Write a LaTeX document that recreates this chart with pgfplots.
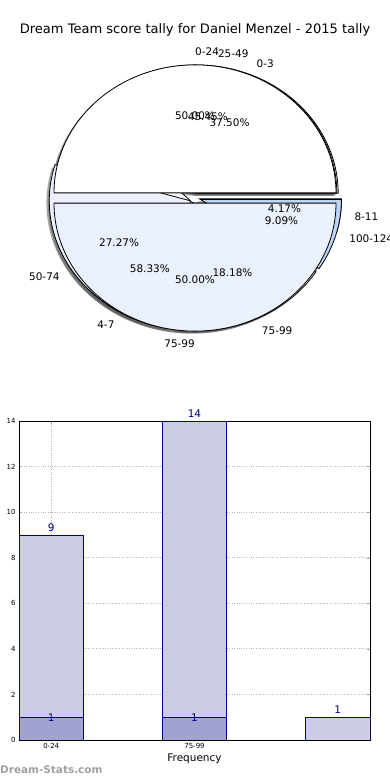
\documentclass[border=0pt]{standalone}
\usepackage{pgfplots}
\pgfplotsset{compat=1.18}
\usepackage{fontspec}
\setmainfont{DejaVu Sans}
\definecolor{pieW}{HTML}{FFFFFF}
\definecolor{pieL}{HTML}{EAF0FC}
\definecolor{pieM}{HTML}{DCE7FA}
\definecolor{pieB}{HTML}{BCD4F5}
\definecolor{barL}{HTML}{CCCCE5}
\definecolor{barD}{HTML}{A2A2D0}
\definecolor{navyc}{HTML}{000080}
\definecolor{wm}{HTML}{A0A0A0}

% pie geometry (canvas bp): centre (195,582), radii 141 x 128, explode 0.04, shadow (-0.02,-0.02)
\newcommand\piecalc[3]{%
 \pgfmathsetmacro\sA{360*#1/#3}%
 \pgfmathsetmacro\sB{360*(#1+#2)/#3}%
 \pgfmathsetmacro\sM{(\sA+\sB)/2}%
 \pgfmathsetmacro\cx{195+5.64*cos(\sM)}%
 \pgfmathsetmacro\cy{582+5.12*sin(\sM)}%
}
\newcommand\pieshadow[3]{\piecalc{#1}{#2}{#3}%
 \pgfmathsetmacro\shx{\cx-2.82}\pgfmathsetmacro\shy{\cy-2.56}%
 \fill[black!70,opacity=0.5] (axis cs:\shx,\shy) -- ++(\sA:141bp and 128bp)
   arc[start angle=\sA,end angle=\sB,x radius=141bp,y radius=128bp] -- cycle;}
\newcommand\piewedge[4]{\piecalc{#1}{#2}{#3}%
 \filldraw[fill=#4,draw=black,line width=0.8bp] (axis cs:\cx,\cy) -- ++(\sA:141bp and 128bp)
   arc[start angle=\sA,end angle=\sB,x radius=141bp,y radius=128bp] -- cycle;}
\newcommand\pielabel[5]{\piecalc{#1}{#2}{#3}%
 \pgfmathsetmacro\lx{195+1.14*141*cos(\sM)}%
 \pgfmathsetmacro\ly{582+1.14*128*sin(\sM)}%
 \pgfmathsetmacro\px{195+0.64*141*cos(\sM)}%
 \pgfmathsetmacro\py{582+0.64*128*sin(\sM)}%
 \pgfmathsetmacro\pct{100*#2/#3}%
 \node[pl,anchor=#5] at (axis cs:\lx,\ly) {#4};
 \node[pl] at (axis cs:\px,\py) {\pgfmathprintnumber[fixed,fixed zerofill,precision=2,assume math mode=true]{\pct}\%};}

\begin{document}
\begin{tikzpicture}[pl/.style={font=\fontsize{10.5}{12}\selectfont,inner sep=0pt}]
% ---------- pie charts (three pies drawn on one another) ----------
\begin{axis}[at={(0bp,0bp)},anchor=south west,scale only axis,width=390bp,height=780bp,
  xmin=0,xmax=390,ymin=0,ymax=780,hide axis,clip=false]
\pgfplotsextra{%
 % shadows
 \pieshadow{0}{9}{24}\pieshadow{9}{14}{24}\pieshadow{23}{1}{24}%
 \pieshadow{0}{5}{11}\pieshadow{5}{3}{11}\pieshadow{8}{2}{11}\pieshadow{10}{1}{11}%
 \pieshadow{0}{1}{2}\pieshadow{1}{1}{2}%
 % pie C: 0-3 (9), 4-7 (14), 8-11 (1)
 \piewedge{0}{9}{24}{pieL}\piewedge{9}{14}{24}{pieW}\piewedge{23}{1}{24}{pieM}%
 % pie B: 25-49 (5), 50-74 (3), 75-99 (2), 100-124 (1)
 \piewedge{0}{5}{11}{pieW}\piewedge{5}{3}{11}{pieL}\piewedge{8}{2}{11}{pieL}\piewedge{10}{1}{11}{pieB}%
 % pie A: 0-24 (1), 75-99 (1)
 \piewedge{0}{1}{2}{pieW}\piewedge{1}{1}{2}{pieL}%
 % labels
 \pielabel{0}{9}{24}{0-3}{west}\pielabel{9}{14}{24}{4-7}{east}\pielabel{23}{1}{24}{8-11}{west}%
 \pielabel{0}{5}{11}{25-49}{west}\pielabel{5}{3}{11}{50-74}{east}\pielabel{8}{2}{11}{75-99}{west}\pielabel{10}{1}{11}{100-124}{west}%
 \pielabel{0}{1}{2}{0-24}{west}\pielabel{1}{1}{2}{75-99}{east}%
}
\node[font=\fontsize{13.1}{15}\selectfont,inner sep=0pt] at (axis cs:195,750) {Dream Team score tally for Daniel Menzel - 2015 tally};
\node[font=\bfseries\fontsize{10.5}{12}\selectfont,text=wm,anchor=west,inner sep=0pt] at (axis cs:0,10) {Dream-Stats.com};
\end{axis}
% ---------- bar chart ----------
\begin{axis}[at={(19bp,40bp)},anchor=south west,scale only axis,width=351bp,height=319bp,
  xmin=-0.225,xmax=2.225,ymin=0,ymax=14,
  xtick={0,1},xticklabels={0-24,75-99},ytick={0,2,...,14},
  grid=major,grid style={gray!55,dotted,line width=0.9bp},
  tick align=inside,tick pos=both,major tick length=3bp,
  tick style={gray!70},
  tick label style={font=\fontsize{7}{8}\selectfont},
  /pgf/number format/assume math mode=true,
  xlabel={Frequency},xlabel style={font=\fontsize{10.5}{12}\selectfont,yshift=2bp},
  axis line style={line width=0.8bp},axis on top=false]
\addplot[ybar,bar width=0.45,bar shift=0pt,fill=barL,draw=navyc,line width=0.7bp,
  nodes near coords,every node near coord/.append style={font=\fontsize{10.5}{12}\selectfont,text=navyc,anchor=south,inner sep=0pt,yshift=3bp}]
  coordinates {(0,9) (1,14) (2,1)};
\addplot[ybar,bar width=0.45,bar shift=0pt,fill=barD,draw=navyc,line width=0.7bp,
  nodes near coords,nodes near coords align={center},every node near coord/.append style={font=\fontsize{10.5}{12}\selectfont,text=navyc,anchor=center,inner sep=0pt}]
  coordinates {(0,1) (1,1)};
\end{axis}
\pgfresetboundingbox
\useasboundingbox (0bp,0bp) rectangle (390bp,780bp);
\end{tikzpicture}
\end{document}
